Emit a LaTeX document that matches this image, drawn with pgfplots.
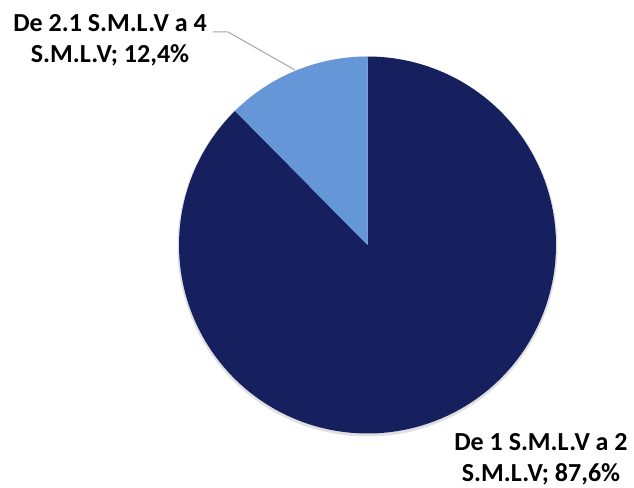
\documentclass[border=0pt]{standalone}
\usepackage{pgfplots}
\pgfplotsset{compat=1.18}
\usepackage{pgfplotstable}
\usepackage{fontspec}
\setmainfont{Carlito}
\definecolor{navy}{HTML}{16205F}
\definecolor{lightb}{HTML}{6596D8}
\definecolor{leader}{HTML}{A6A6A6}
% share values (percent)
\pgfplotstableread{
label value
A 87.6
B 12.4
}\piedata
\pgfplotstablegetelem{0}{value}\of\piedata \let\vA\pgfplotsretval
\pgfplotstablegetelem{1}{value}\of\piedata \let\vB\pgfplotsretval
\pgfmathsetmacro{\angB}{90+3.6*\vB}
\pgfmathsetmacro{\angA}{\angB+3.6*\vA}
\def\cx{367.5}
\def\cy{242}
\def\rr{188.5}
\begin{document}
\begin{tikzpicture}
\begin{axis}[
  scale only axis, width=634pt, height=487pt,
  xmin=0, xmax=634, ymin=0, ymax=487,
  hide axis, clip=false,
]
\path (axis cs:0,0) rectangle (axis cs:634,487);
% soft shadow
\addplot[draw=black!12, line width=3pt, domain=0:360, samples=180, forget plot]
  ({\cx+\rr*cos(x)}, {\cy-1.5+\rr*sin(x)});
% large slice
\addplot[fill=navy, draw=none, domain=\angB:\angA, samples=200, forget plot]
  ({\cx+\rr*cos(x)}, {\cy+\rr*sin(x)}) -- (axis cs:\cx,\cy) -- cycle;
% small slice
\addplot[fill=lightb, draw=none, domain=90:\angB, samples=60, forget plot]
  ({\cx+\rr*cos(x)}, {\cy+\rr*sin(x)}) -- (axis cs:\cx,\cy) -- cycle;
% leader line
\addplot[leader, line width=1pt, forget plot] coordinates {(213,455) (228,455) (295,417)};
\node[anchor=base, inner sep=0pt, font=\fontsize{26}{31}\selectfont\bfseries] at (axis cs:110,455) {De 2.1 S.M.L.V a 4};
\node[anchor=base, inner sep=0pt, font=\fontsize{26}{31}\selectfont\bfseries] at (axis cs:110,424) {S.M.L.V; 12,4\%};
\node[anchor=base, inner sep=0pt, font=\fontsize{26}{31}\selectfont\bfseries] at (axis cs:541,36.3) {De 1 S.M.L.V a 2};
\node[anchor=base, inner sep=0pt, font=\fontsize{26}{31}\selectfont\bfseries] at (axis cs:541,5.3) {S.M.L.V; 87,6\%};
\end{axis}
\end{tikzpicture}
\end{document}
